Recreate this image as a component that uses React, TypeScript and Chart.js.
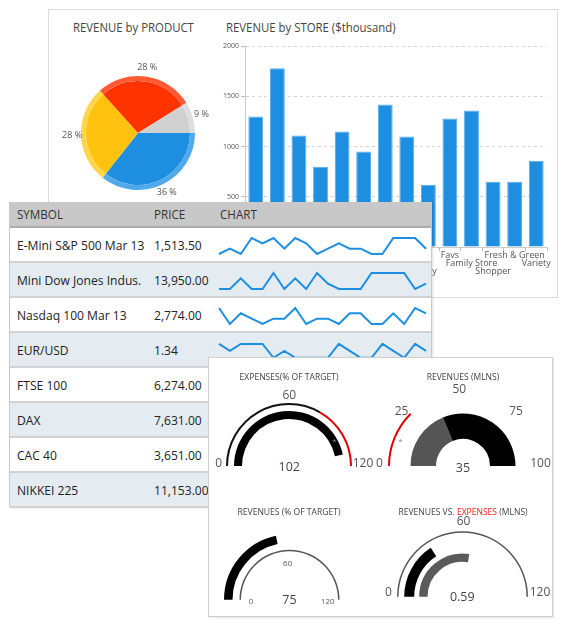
import React, { useEffect, useRef } from "react";
import { Chart, registerables } from "chart.js";

Chart.register(...registerables);

const FONT = "'Open Sans', 'Noto Sans', Arial, sans-serif";
Chart.defaults.font.family = FONT;

// ---------------- data ----------------
const productNames = ["Beverages", "Snacks", "Dairy", "Other"];
const productShares = [36, 28, 28, 9];
const productColors = ["#1e8fe0", "#ffc20e", "#ff3300", "#d0d0d0"];
const productRimColors = ["#4fa9ea", "#ffd54a", "#ff5a34", "#dedede"];

const storeNames = [
  "Mart", "Bazaar", "Corner", "Daily", "Deli", "Market", "Super", "Grocer",
  "Jolly", "Favs", "Family Store", "Shopper", "Fresh & Green", "Variety",
];
const storeRevenue = [1300, 1780, 1110, 800, 1150, 950, 1420, 1100, 620, 1280, 1360, 650, 650, 860];
const revenueMin = 0;
const revenueMax = 2000;
const revenueStep = 500;

const symbols = [
  "E-Mini S&P 500 Mar 13", "Mini Dow Jones Indus.", "Nasdaq 100 Mar 13", "EUR/USD",
  "FTSE 100", "DAX", "CAC 40", "NIKKEI 225",
];
const prices = ["1,513.50", "13,950.00", "2,774.00", "1.34", "6,274.00", "7,631.00", "3,651.00", "11,153.00"];
const sparkSP500 = [1, 2, 1, 4, 3, 4, 2, 4, 3, 1, 2, 3, 2, 2, 1, 1, 4, 4, 4, 2];
const sparkDow = [1, 1, 3, 1, 1, 4, 1, 3, 1, 4, 2, 1, 1, 1, 4, 4, 4, 4, 1, 2];
const sparkNasdaq = [4, 1, 3, 2, 1, 2, 2, 4, 1, 2, 2, 1, 3, 3, 1, 1, 3, 1, 4, 3];
const sparkEurUsd = [4, 3, 4, 4, 4, 2, 3, 2, 2, 2, 2, 4, 3, 2, 2, 4, 3, 2, 4, 3];
const sparkSeries: (number[] | null)[] = [sparkSP500, sparkDow, sparkNasdaq, sparkEurUsd, null, null, null, null];

// gauges
const expensesScaleMax = 120;
const expensesRedFrom = 80;
const expensesBar = 112;
const expensesLabel = "102";

const revenuesMlnsMax = 100;
const revenuesMlnsRed = 25;
const revenuesMlnsValue = 37.5;
const revenuesMlnsLabel = "35";

const revenuesTargetMax = 120;
const revenuesTargetBar = 52;
const revenuesTargetLabel = "75";

const revVsExpMax = 120;
const revVsExpRevenue = 38;
const revVsExpExpenses = 66;
const revVsExpLabel = "0.59";

// ---------------- helpers ----------------
function Txt(props: {
  x: number; y: number; size: number; color?: string; children: React.ReactNode;
  anchor?: "start" | "center"; sx?: number;
}) {
  const { x, y, size, color = "#555", children, anchor = "center", sx = 1 } = props;
  const tx = anchor === "center" ? "-50%" : "0";
  return (
    <div
      style={{
        position: "absolute", left: x, top: y,
        transform: `translate(${tx}, -50%) scaleX(${sx})`,
        transformOrigin: anchor === "center" ? "50% 50%" : "0 50%",
        fontSize: size, color, fontFamily: FONT, whiteSpace: "nowrap", lineHeight: 1,
      }}
    >
      {children}
    </div>
  );
}

type Ring = { values: number[]; colors: string[]; weight: number };
const gap = (w: number): Ring => ({ values: [1], colors: ["rgba(0,0,0,0)"], weight: w });

function Gauge(props: { cx: number; cy: number; radius: number; cutout: number; rings: Ring[] }) {
  const { cx, cy, radius, cutout, rings } = props;
  const ref = useRef<HTMLCanvasElement>(null);
  const m = 3;
  const w = Math.round(2 * radius + 2 * m);
  const h = Math.round(radius + 2 * m);
  useEffect(() => {
    const chart = new Chart(ref.current as HTMLCanvasElement, {
      type: "doughnut",
      data: {
        labels: rings[0].values.map((_, i) => String(i)),
        datasets: rings.map((r) => ({
          data: r.values, backgroundColor: r.colors, borderWidth: 0, weight: r.weight,
        })),
      },
      options: {
        responsive: false, animation: false, events: [],
        rotation: -90, circumference: 180,
        radius: radius, cutout: `${(cutout / radius) * 100}%`,
        plugins: { legend: { display: false }, tooltip: { enabled: false } },
      } as any,
    });
    return () => chart.destroy();
  }, []);
  return (
    <canvas
      ref={ref} width={w} height={h}
      style={{ position: "absolute", left: cx - w / 2, top: cy - radius - m, width: w, height: h }}
    />
  );
}

function PieChart() {
  const ref = useRef<HTMLCanvasElement>(null);
  useEffect(() => {
    const labelPlugin = {
      id: "pieOutLabels",
      afterDatasetsDraw(chart: any) {
        const meta = chart.getDatasetMeta(0);
        const ctx = chart.ctx;
        ctx.save();
        ctx.font = `9px ${FONT}`;
        ctx.fillStyle = "#555";
        ctx.textAlign = "center";
        ctx.textBaseline = "middle";
        meta.data.forEach((arc: any, i: number) => {
          const mid = (arc.startAngle + arc.endAngle) / 2;
          const r = arc.outerRadius + 9;
          ctx.fillText(`${productShares[i]} %`, arc.x + Math.cos(mid) * r, arc.y + Math.sin(mid) * r);
        });
        ctx.restore();
      },
    };
    const chart = new Chart(ref.current as HTMLCanvasElement, {
      type: "pie",
      data: {
        labels: productNames,
        datasets: [
          { data: productShares, backgroundColor: productRimColors, borderWidth: 0, weight: 5 },
          { data: productShares, backgroundColor: productColors, borderWidth: 0, weight: 52 },
        ],
      },
      options: {
        responsive: false, animation: false, events: [],
        rotation: 90, radius: 57,
        plugins: { legend: { display: false }, tooltip: { enabled: false } },
      } as any,
      plugins: [labelPlugin],
    });
    return () => chart.destroy();
  }, []);
  return <canvas ref={ref} width={160} height={160} style={{ position: "absolute", left: 58, top: 53 }} />;
}

function BarChart() {
  const ref = useRef<HTMLCanvasElement>(null);
  useEffect(() => {
    const chart = new Chart(ref.current as HTMLCanvasElement, {
      type: "bar",
      data: {
        labels: storeNames,
        datasets: [{
          data: storeRevenue, backgroundColor: "#1e8fe0", borderColor: "#55acec", borderWidth: 1,
          categoryPercentage: 1, barPercentage: 0.69,
        }],
      },
      options: {
        responsive: false, animation: false, events: [],
        layout: { padding: { top: 6, right: 13, left: 0, bottom: 0 } },
        plugins: { legend: { display: false }, tooltip: { enabled: false } },
        scales: {
          x: {
            grid: { display: true, drawOnChartArea: false, drawTicks: true, tickLength: 4, color: "#bbb", offset: true },
            border: { color: "#ccc" },
            ticks: {
              autoSkip: false, maxRotation: 0, minRotation: 0, padding: 0,
              color: "#555", font: { size: 9, lineHeight: 0.93 },
              callback: (_v: any, i: number) => {
                const row = i % 3;
                const lines: string[] = [];
                for (let k = 0; k < row; k++) lines.push("");
                lines.push(storeNames[i]);
                return lines;
              },
            },
            afterFit: (s: any) => { s.height = 50; },
          },
          y: {
            min: revenueMin, max: revenueMax,
            ticks: {
              stepSize: revenueStep, color: "#555", font: { size: 7 }, padding: 2,
              callback: (v: any) => String(v),
            },
            grid: { color: "#d6d6d6", tickLength: 4, drawTicks: true, tickBorderDash: [], tickColor: "#bbb" },
            border: { dash: [3, 3], color: "#c8c8c8" },
            afterFit: (s: any) => { s.width = 30; },
          },
        },
      } as any,
    });
    return () => chart.destroy();
  }, []);
  return <canvas ref={ref} width={345} height={257} style={{ position: "absolute", left: 215, top: 40 }} />;
}

function Sparkline(props: { values: number[]; lo: number; hi: number; left: number; top: number }) {
  const { values, lo, hi, left, top } = props;
  const ref = useRef<HTMLCanvasElement>(null);
  useEffect(() => {
    const chart = new Chart(ref.current as HTMLCanvasElement, {
      type: "line",
      data: {
        labels: values.map((_, i) => String(i + 1)),
        datasets: [{ data: values, borderColor: "#1e8fe0", borderWidth: 2, pointRadius: 0, tension: 0, fill: false }],
      },
      options: {
        responsive: false, animation: false, events: [],
        layout: { padding: { left: 4, right: 4, top: 0, bottom: 0 } },
        plugins: { legend: { display: false }, tooltip: { enabled: false } },
        scales: {
          x: { display: false, offset: false },
          y: { display: false, min: lo, max: hi },
        },
      } as any,
    });
    return () => chart.destroy();
  }, []);
  return <canvas ref={ref} width={215} height={35} style={{ position: "absolute", left, top }} />;
}

function Table() {
  const headerH = 25;
  const rowH = 35;
  const ranges = [
    [-0.6875, 5.875], [-0.6875, 5.875], [-0.6875, 5.875], [0.53, 5.57],
  ];
  const sx = 0.93;
  return (
    <div
      style={{
        position: "absolute", left: 9, top: 202, width: 423, height: headerH + rowH * 8,
        background: "#fff", border: "1px solid #c9c9c9", boxSizing: "border-box",
        fontFamily: FONT, color: "#222", boxShadow: "1px 1px 2px rgba(0,0,0,0.12)",
      }}
    >
      <div
        style={{
          position: "absolute", left: 0, top: 0, right: 0, height: headerH,
          background: "#c8c8c8", borderBottom: "2px solid #adadad", boxSizing: "border-box",
        }}
      />
      <Txt x={7} y={12} size={12.5} color="#333" anchor="start" sx={sx}>SYMBOL</Txt>
      <Txt x={144} y={12} size={12.5} color="#333" anchor="start" sx={sx}>PRICE</Txt>
      <Txt x={210} y={12} size={12.5} color="#333" anchor="start" sx={sx}>CHART</Txt>
      {symbols.map((s, i) => {
        const top = headerH + rowH * i;
        const sp = sparkSeries[i];
        return (
          <React.Fragment key={s}>
            <div
              style={{
                position: "absolute", left: 0, right: 0, top, height: rowH,
                background: i % 2 === 0 ? "#ffffff" : "#e4ecf1",
                borderBottom: "2px solid #d2d2d2", boxSizing: "border-box",
              }}
            />
            <Txt x={7} y={top + 17} size={13} color="#222" anchor="start" sx={sx}>{s}</Txt>
            <Txt x={144} y={top + 17} size={13} color="#222" anchor="start" sx={sx}>{prices[i]}</Txt>
            {sp ? (
              <Sparkline values={sp} lo={ranges[i][0]} hi={ranges[i][1]} left={204.5} top={top} />
            ) : null}
          </React.Fragment>
        );
      })}
    </div>
  );
}

function GaugePanel() {
  // panel origin (208, 357)
  const ox = 208;
  const oy = 357;
  const P = (x: number) => x - ox;
  const Q = (y: number) => y - oy;
  const titleSize = 9.5;
  const tsx = 0.9;
  return (
    <div
      style={{
        position: "absolute", left: ox, top: oy, width: 345, height: 260,
        background: "#fff", border: "1px solid #cfcfcf", boxSizing: "border-box",
        boxShadow: "1px 1px 2px rgba(0,0,0,0.1)", overflow: "hidden",
      }}
    >
      {/* Gauge 1 */}
      <Txt x={P(288.3)} y={Q(375.5)} size={titleSize} color="#444" sx={tsx}>EXPENSES(% OF TARGET)</Txt>
      <Gauge
        cx={P(288.3)} cy={Q(465)} radius={63} cutout={47}
        rings={[
          { values: [expensesRedFrom, expensesScaleMax - expensesRedFrom], colors: ["#111", "#e00000"], weight: 2 },
          gap(6),
          { values: [expensesBar, expensesScaleMax - expensesBar], colors: ["#000", "rgba(0,0,0,0)"], weight: 8 },
        ]}
      />
      <Txt x={P(217.7)} y={Q(462)} size={12} color="#555">0</Txt>
      <Txt x={P(288.3)} y={Q(393.5)} size={12} color="#555">60</Txt>
      <Txt x={P(362)} y={Q(462)} size={12} color="#555">120</Txt>
      <Txt x={P(288.3)} y={Q(466)} size={12.5} color="#444">{expensesLabel}</Txt>
      <Txt x={P(333.5)} y={Q(440)} size={8} color="#888">*</Txt>

      {/* Gauge 2 */}
      <Txt x={P(461.7)} y={Q(375.5)} size={titleSize} color="#444" sx={tsx}>REVENUES (MLNS)</Txt>
      <Gauge
        cx={P(461.7)} cy={Q(465)} radius={75} cutout={27}
        rings={[
          { values: [revenuesMlnsRed, revenuesMlnsMax - revenuesMlnsRed], colors: ["#e00000", "rgba(0,0,0,0)"], weight: 2 },
          gap(20.5),
          { values: [revenuesMlnsValue, revenuesMlnsMax - revenuesMlnsValue], colors: ["#555555", "#000000"], weight: 25.5 },
        ]}
      />
      <Txt x={P(378.5)} y={Q(462)} size={12} color="#555">0</Txt>
      <Txt x={P(400.5)} y={Q(410)} size={12} color="#555">25</Txt>
      <Txt x={P(458.3)} y={Q(387.5)} size={12} color="#555">50</Txt>
      <Txt x={P(515)} y={Q(410)} size={12} color="#555">75</Txt>
      <Txt x={P(539.5)} y={Q(462)} size={12} color="#555">100</Txt>
      <Txt x={P(462)} y={Q(466.5)} size={12.5} color="#444">{revenuesMlnsLabel}</Txt>
      <Txt x={P(399.5)} y={Q(439.5)} size={8} color="#888">*</Txt>

      {/* Gauge 3 */}
      <Txt x={P(288.3)} y={Q(510.5)} size={titleSize} color="#444" sx={tsx}>REVENUES (% OF TARGET)</Txt>
      <Gauge
        cx={P(288.3)} cy={Q(598.3)} radius={65.5} cutout={48.5}
        rings={[
          { values: [revenuesTargetBar, revenuesTargetMax - revenuesTargetBar], colors: ["#000", "rgba(0,0,0,0)"], weight: 8.5 },
          gap(7),
          { values: [revenuesTargetMax], colors: ["#555"], weight: 1.5 },
        ]}
      />
      <Txt x={P(250)} y={Q(599.5)} size={8} color="#555">0</Txt>
      <Txt x={P(286.7)} y={Q(562)} size={8} color="#555">60</Txt>
      <Txt x={P(326.7)} y={Q(599.5)} size={8} color="#555">120</Txt>
      <Txt x={P(288.5)} y={Q(599)} size={12.5} color="#444">{revenuesTargetLabel}</Txt>

      {/* Gauge 4 */}
      <Txt x={P(461.7)} y={Q(510.5)} size={titleSize} color="#444" sx={tsx}>
        REVENUES VS. <span style={{ color: "#ff1a1a" }}>EXPENSES</span> (MLNS)
      </Txt>
      <Gauge
        cx={P(461.7)} cy={Q(595.5)} radius={65.5} cutout={35}
        rings={[
          { values: [revVsExpMax], colors: ["#555"], weight: 1.5 },
          gap(5.7),
          { values: [revVsExpRevenue, revVsExpMax - revVsExpRevenue], colors: ["#000", "rgba(0,0,0,0)"], weight: 10 },
          gap(5),
          { values: [revVsExpExpenses, revVsExpMax - revVsExpExpenses], colors: ["#5a5a5a", "rgba(0,0,0,0)"], weight: 8.3 },
        ]}
      />
      <Txt x={P(387.5)} y={Q(591)} size={12} color="#555">0</Txt>
      <Txt x={P(462.5)} y={Q(520)} size={12} color="#555">60</Txt>
      <Txt x={P(539)} y={Q(591)} size={12} color="#555">120</Txt>
      <Txt x={P(461.3)} y={Q(596)} size={12.5} color="#444">{revVsExpLabel}</Txt>
    </div>
  );
}

export default function App() {
  return (
    <div style={{ position: "relative", width: 570, height: 627, margin: -8, background: "#fff", overflow: "hidden" }}>
      {/* top card */}
      <div
        style={{
          position: "absolute", left: 48, top: 9, width: 510, height: 289,
          border: "1px solid #dcdcdc", boxSizing: "border-box", background: "#fff",
        }}
      />
      <Txt x={72.5} y={28} size={12.5} color="#444" anchor="start" sx={0.91}>REVENUE by PRODUCT</Txt>
      <Txt x={226} y={28} size={12.5} color="#444" anchor="start" sx={0.91}>REVENUE by STORE ($thousand)</Txt>
      <PieChart />
      <BarChart />
      <Table />
      <GaugePanel />
    </div>
  );
}
